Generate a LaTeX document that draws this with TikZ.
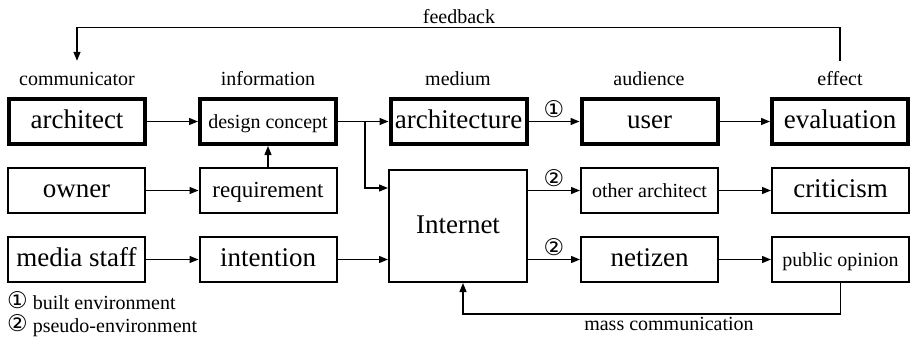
\documentclass[tikz,border=0pt]{standalone}
\usepackage{fontspec}
\setmainfont{Liberation Serif}
\newfontfamily\circfont{DejaVu Sans}
\newcommand\circnum[1]{\raisebox{1pt}{\circfont\fontsize{23}{26}\selectfont#1}}
\usetikzlibrary{arrows.meta}

\begin{document}
\begin{tikzpicture}[x=1pt,y=-1pt,
  bigbox/.style={draw,line width=4pt,minimum width=136pt,minimum height=45pt,inner sep=1pt,text height=18pt,text depth=4pt,font=\fontsize{27}{30}\selectfont},
  box/.style={draw,line width=2pt,minimum width=137pt,minimum height=45pt,inner sep=1pt,text height=18pt,text depth=4pt,font=\fontsize{27}{30}\selectfont},
  midtext/.style={font=\fontsize{23}{27}\selectfont},
  smalltext/.style={font=\fontsize{20}{24}\selectfont},
  colhead/.style={smalltext,anchor=base,inner sep=0pt,text height=14pt},
  circ/.style={inner sep=1pt},
  flow/.style={line width=1.3pt,-{Triangle[length=9pt,width=7pt]}}]
\useasboundingbox (0,0) rectangle (911,341);

\node[colhead] (lblcomm) at (77,85) {communicator};
\node[colhead] (lblinfo) at (268,85) {information};
\node[colhead] (lblmed) at (458,85) {medium};
\node[colhead] (lblaud) at (649,85) {audience};
\node[colhead] (lbleff) at (840,85) {effect};

\node[bigbox] (architect) at (77,121.5) {architect};
\node[bigbox,smalltext] (concept) at (268,121.5) {design concept};
\node[bigbox] (architecture) at (458.5,121.5) {architecture};
\node[bigbox] (user) at (649.5,121.5) {user};
\node[bigbox] (evaluation) at (840,121.5) {evaluation};

\node[box] (owner) at (76.5,190.5) {owner};
\node[box,midtext] (requirement) at (268,190.5) {requirement};
\node[box,minimum width=138pt,minimum height=112pt] (internet) at (458,226) {Internet};
\node[box,smalltext] (other) at (649.5,190.5) {other architect};
\node[box] (criticism) at (840.5,190.5) {criticism};

\node[box] (media) at (76.5,259.5) {media staff};
\node[box] (intention) at (268,259.5) {intention};
\node[box] (netizen) at (649.5,259.5) {netizen};
\node[box,smalltext] (opinion) at (840.5,259.5) {public opinion};

\draw[flow] (architect) -- (concept);
\draw[flow] (concept) -- (architecture);
\coordinate (split) at (365,121.5);
\draw[flow] (split) |- ([yshift=38pt]internet.west);
\draw[flow] (requirement) -- (concept);
\draw[flow] (owner) -- (requirement);
\draw[flow] (media) -- (intention);
\draw[flow] (intention.east) -- (intention.east -| internet.west);
\draw[flow] (architecture) -- node[circ,above=1pt] {\circnum{①}} (user);
\draw[flow] (other.west -| internet.east) -- node[circ,above=1pt] {\circnum{②}} (other.west);
\draw[flow] (netizen.west -| internet.east) -- node[circ,above=1pt] {\circnum{②}} (netizen.west);
\draw[flow] (user) -- (evaluation);
\draw[flow] (other) -- (criticism);
\draw[flow] (netizen) -- (opinion);

\draw[flow] ([yshift=10pt]lbleff.north) -- ++(0,-33) -| ([yshift=10pt]lblcomm.north);
\node[smalltext,anchor=base] (fb) at (459,23) {feedback};
\draw[flow] (opinion.south) -- ++(0,31) -| ([xshift=5pt]internet.south);
\node[smalltext,anchor=base] (masscom) at (669,330) {mass communication};

\node[smalltext,anchor=base west,inner sep=0pt] (key1) at (7,309) {\circnum{①} built environment};
\node[smalltext,anchor=base west,inner sep=0pt] (key2) at (7,332) {\circnum{②} pseudo-environment};
\end{tikzpicture}
\end{document}
